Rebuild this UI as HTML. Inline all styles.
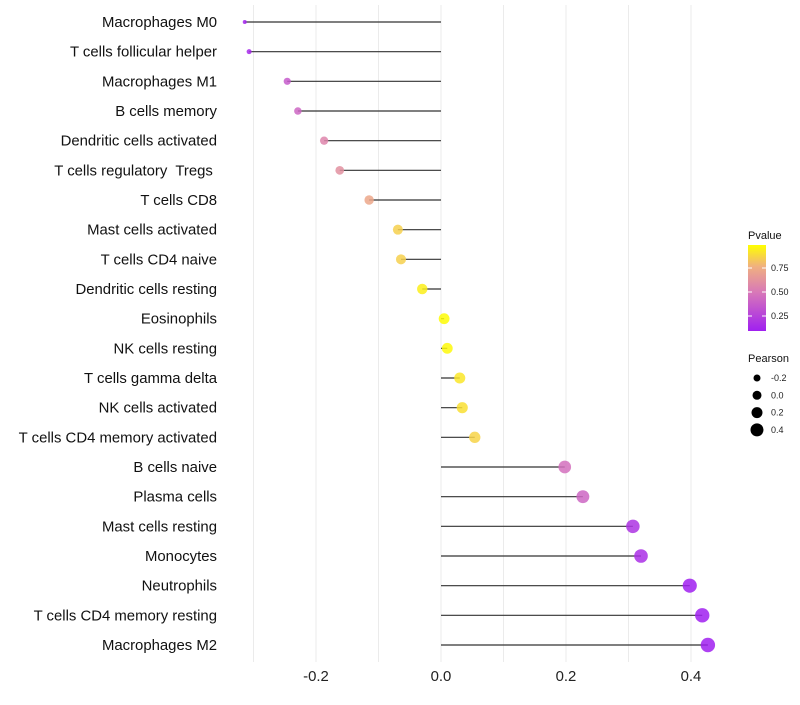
<!DOCTYPE html>
<html><head><meta charset="utf-8"><style>
body{margin:0;background:#fff;font-family:"Liberation Sans",sans-serif}
text{white-space:pre}
</style></head><body>
<svg id="c" width="800" height="700" xmlns="http://www.w3.org/2000/svg">
<defs><linearGradient id="pg" x1="0" y1="1" x2="0" y2="0">
<stop offset="0" stop-color="#a020f0"/><stop offset="0.45" stop-color="#d878b8"/><stop offset="0.75" stop-color="#f0b080"/><stop offset="1" stop-color="#ffff00"/></linearGradient></defs>
</svg>
<script>
const cells=["Macrophages M0","T cells follicular helper","Macrophages M1","B cells memory","Dendritic cells activated","T cells regulatory  Tregs ","T cells CD8","Mast cells activated","T cells CD4 naive","Dendritic cells resting","Eosinophils","NK cells resting","T cells gamma delta","NK cells activated","T cells CD4 memory activated","B cells naive","Plasma cells","Mast cells resting","Monocytes","Neutrophils","T cells CD4 memory resting","Macrophages M2"];
const pearson=[-0.314,-0.307,-0.246,-0.229,-0.187,-0.162,-0.115,-0.069,-0.064,-0.030,0.005,0.010,0.030,0.034,0.054,0.198,0.227,0.307,0.320,0.398,0.418,0.427];
const pvalue=[0.12,0.14,0.33,0.38,0.52,0.58,0.70,0.85,0.85,0.95,0.99,0.98,0.92,0.90,0.86,0.42,0.38,0.18,0.16,0.10,0.08,0.06];
const xTicks=[-0.2,0.0,0.2,0.4];
const xMinor=[-0.3,-0.1,0.1,0.3];
const NS="http://www.w3.org/2000/svg";
const svg=document.getElementById('c');
const X=v=>441+v*625;
const Y=i=>22+i*(623/21);
const R=v=>2+5.2*Math.sqrt(Math.max(0,(v+0.314)/0.741));
function col(p){const st=[[0.1,[160,32,240]],[0.45,[216,120,184]],[0.75,[240,176,128]],[1,[255,255,0]]];
 p=Math.max(0.1,Math.min(1,p));for(let k=1;k<st.length;k++){if(p<=st[k][0]){const a=st[k-1],b=st[k],t=(p-a[0])/(b[0]-a[0]);return 'rgb('+a[1].map((c,j)=>Math.round(c+(b[1][j]-c)*t)).join(',')+')';}}return 'rgb(255,255,0)';}
function mk(t,a){const e=document.createElementNS(NS,t);for(const k in a)e.setAttribute(k,a[k]);svg.appendChild(e);return e;}
xMinor.concat(xTicks).forEach(v=>{const g=mk('line',{x1:X(v),x2:X(v),y1:5,y2:662,stroke:'#ebebeb','stroke-width':1});

});
xTicks.forEach(v=>{const t=mk('text',{x:X(v),y:681,'text-anchor':'middle','font-size':14.9,fill:'#222'});t.textContent=v.toFixed(1);

});
cells.forEach((c,i)=>{const y=Y(i);
const t=mk('text',{x:217,y:y+5,'text-anchor':'end','font-size':14.9,fill:'#111'});t.textContent=c;


const l=mk('line',{x1:X(0),x2:X(pearson[i]),y1:y,y2:y,stroke:'#333','stroke-width':1.2});


const d=mk('circle',{cx:X(pearson[i]),cy:y,r:R(pearson[i]),fill:col(pvalue[i]),'fill-opacity':0.85});

});
const lt=mk('text',{x:748,y:239,'font-size':11,fill:'#111'});lt.textContent='Pvalue';


const bar=mk('rect',{x:748,y:245,width:18,height:86,fill:'url(#pg)'});


[[0.75,268],[0.5,292],[0.25,316]].forEach(([v,y])=>{mk('line',{x1:748,x2:752,y1:y,y2:y,stroke:'#fff'});mk('line',{x1:762,x2:766,y1:y,y2:y,stroke:'#fff'});
const t=mk('text',{x:771,y:y+3,'font-size':9,fill:'#222'});t.textContent=v.toFixed(2);

});
const st=mk('text',{x:748,y:362,'font-size':11,fill:'#111'});st.textContent='Pearson';


const legR=[3.5,4.5,5.5,6.5];
[-0.2,0.0,0.2,0.4].forEach((v,k)=>{const y=378+k*17.3;
const c=mk('circle',{cx:757,cy:y,r:legR[k],fill:'#000'});


const t=mk('text',{x:771,y:y+3,'font-size':9,fill:'#222'});t.textContent=v.toFixed(1);

});
</script>
</body></html>
